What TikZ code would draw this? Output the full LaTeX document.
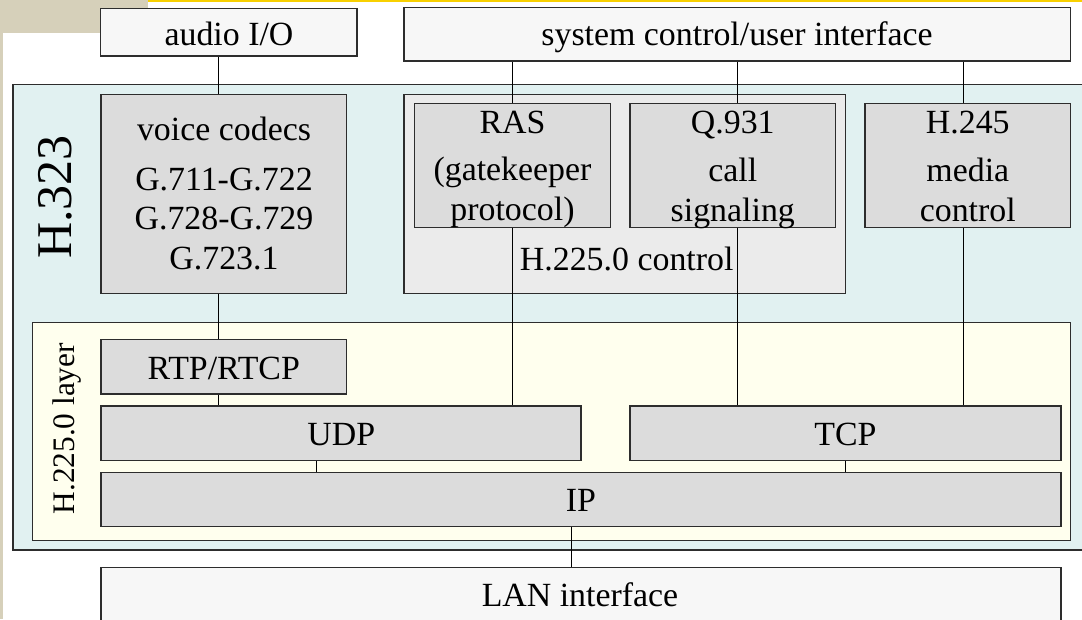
\documentclass[tikz,border=0pt]{standalone}
\usepackage{fontspec}
\setmainfont{Liberation Serif}
\usetikzlibrary{fit}
\definecolor{bgbeige}{RGB}{214,208,186}
\definecolor{topyellow}{RGB}{248,208,0}
\definecolor{outercyan}{RGB}{225,241,241}
\definecolor{paleface}{RGB}{247,247,247}
\definecolor{ctrlgray}{RGB}{235,235,235}
\definecolor{innergray}{RGB}{220,220,220}
\definecolor{layeryellow}{RGB}{255,255,238}
\definecolor{bordc}{RGB}{45,45,45}
\begin{document}
\begin{tikzpicture}[x=0.75pt,y=-0.75pt,
  box/.style={draw=bordc, line width=1pt, inner sep=0pt},
  pale/.style={box, fill=paleface},
  inner/.style={box, fill=innergray},
  txt/.style={anchor=base, inner sep=0pt, font=\fontsize{25.4}{28}\selectfont},
  conn/.style={draw=black, line width=0.75pt}]
\useasboundingbox (0,0) rectangle (1082,619);
% background decorations
\fill[bgbeige] (0,0) rectangle (148,33);
\fill[bgbeige] (0,0) rectangle (2.7,619);
\fill[topyellow] (148,0) rectangle (1082,1.6);
% H.323 outer box
\node[box, fill=outercyan, fit={(13,84.3) (1095,550)}] (h323) {};
% top boxes
\node[pale, fit={(100.7,8.3) (357,56)}] (audio) {};
\node[pale, fit={(404,7.5) (1070.7,61)}] (sys) {};
% codecs
\node[inner, fit={(101,94.3) (346.7,293.3)}] (codec) {};
% H.225.0 control
\node[box, fill=ctrlgray, fit={(404,94.3) (845.7,293.3)}] (ctrl) {};
\node[inner, fit={(414.3,103.3) (610.7,227.3)}] (ras) {};
\node[inner, fit={(630,103.3) (835.7,227.3)}] (q931) {};
\node[inner, fit={(865,103.3) (1070.7,227.3)}] (h245) {};
% H.225.0 layer
\node[box, fill=layeryellow, fit={(32.3,322.3) (1070.3,540.7)}] (layer) {};
\node[inner, fit={(101,339.3) (346.7,394)}] (rtp) {};
\node[inner, fit={(101,406) (581,460.5)}] (udp) {};
\node[inner, fit={(630,406) (1061,460.5)}] (tcp) {};
\node[inner, fit={(101,472.5) (1061,526.7)}] (ip) {};
% LAN
\node[pale, fit={(101,567.7) (1061,640)}] (lan) {};
% connector x positions
\coordinate (xa) at (218.5,0);
\coordinate (xr) at (512.7,0);
\coordinate (xq) at (737.7,0);
\coordinate (xh) at (963,0);
\coordinate (xu) at (316.7,0);
\coordinate (xt) at (845.7,0);
\coordinate (xi) at (571,0);
\draw[conn] (audio.south -| xa) -- (codec.north -| xa);
\draw[conn] (codec.south -| xa) -- (rtp.north -| xa);
\draw[conn] (rtp.south -| xa) -- (udp.north -| xa);
\draw[conn] (sys.south -| xr) -- (ras.north -| xr);
\draw[conn] (ras.south -| xr) -- (udp.north -| xr);
\draw[conn] (sys.south -| xq) -- (q931.north -| xq);
\draw[conn] (q931.south -| xq) -- (tcp.north -| xq);
\draw[conn] (sys.south -| xh) -- (h245.north -| xh);
\draw[conn] (h245.south -| xh) -- (tcp.north -| xh);
\draw[conn] (udp.south -| xu) -- (ip.north -| xu);
\draw[conn] (tcp.south -| xt) -- (ip.north -| xt);
\draw[conn] (ip.south -| xi) -- (lan.north -| xi);
% texts
\node[txt] (taudio) at (229,45.5) {audio I/O};
\node[txt] (tsys) at (737,45.5) {system control/user interface};
\node[txt] (tc1) at (224,140) {voice codecs};
\node[txt] (tc2) at (224,190) {G.711-G.722};
\node[txt] (tc3) at (224,229) {G.728-G.729};
\node[txt] (tc4) at (224,269) {G.723.1};
\node[txt] (tr1) at (512.5,133.3) {RAS};
\node[txt] (tr2) at (512.5,180.5) {(gatekeeper};
\node[txt] (tr3) at (512.5,220.5) {protocol)};
\node[txt] (tq1) at (732.8,133.3) {Q.931};
\node[txt] (tq2) at (732.8,181) {call};
\node[txt] (tq3) at (732.8,221) {signaling};
\node[txt] (th1) at (967.8,133) {H.245};
\node[txt] (th2) at (967.8,181) {media};
\node[txt] (th3) at (967.8,221) {control};
\node[txt] (tctrl) at (626.7,270) {H.225.0 control};
\node[txt] (trtp) at (223.8,379) {RTP/RTCP};
\node[txt] (tudp) at (341.3,445.7) {UDP};
\node[txt] (ttcp) at (845.5,445.7) {TCP};
\node[txt] (tip) at (581,511.7) {IP};
\node[txt] (tlan) at (580,606.7) {LAN interface};
\node[txt, rotate=90, font=\fontsize{37.5}{40}\selectfont] (th323) at (71.7,197) {H.323};
\node[txt, rotate=90, font=\fontsize{23.5}{26}\selectfont] (tlayer) at (74,428.7) {H.225.0 layer};
\end{tikzpicture}
\end{document}
